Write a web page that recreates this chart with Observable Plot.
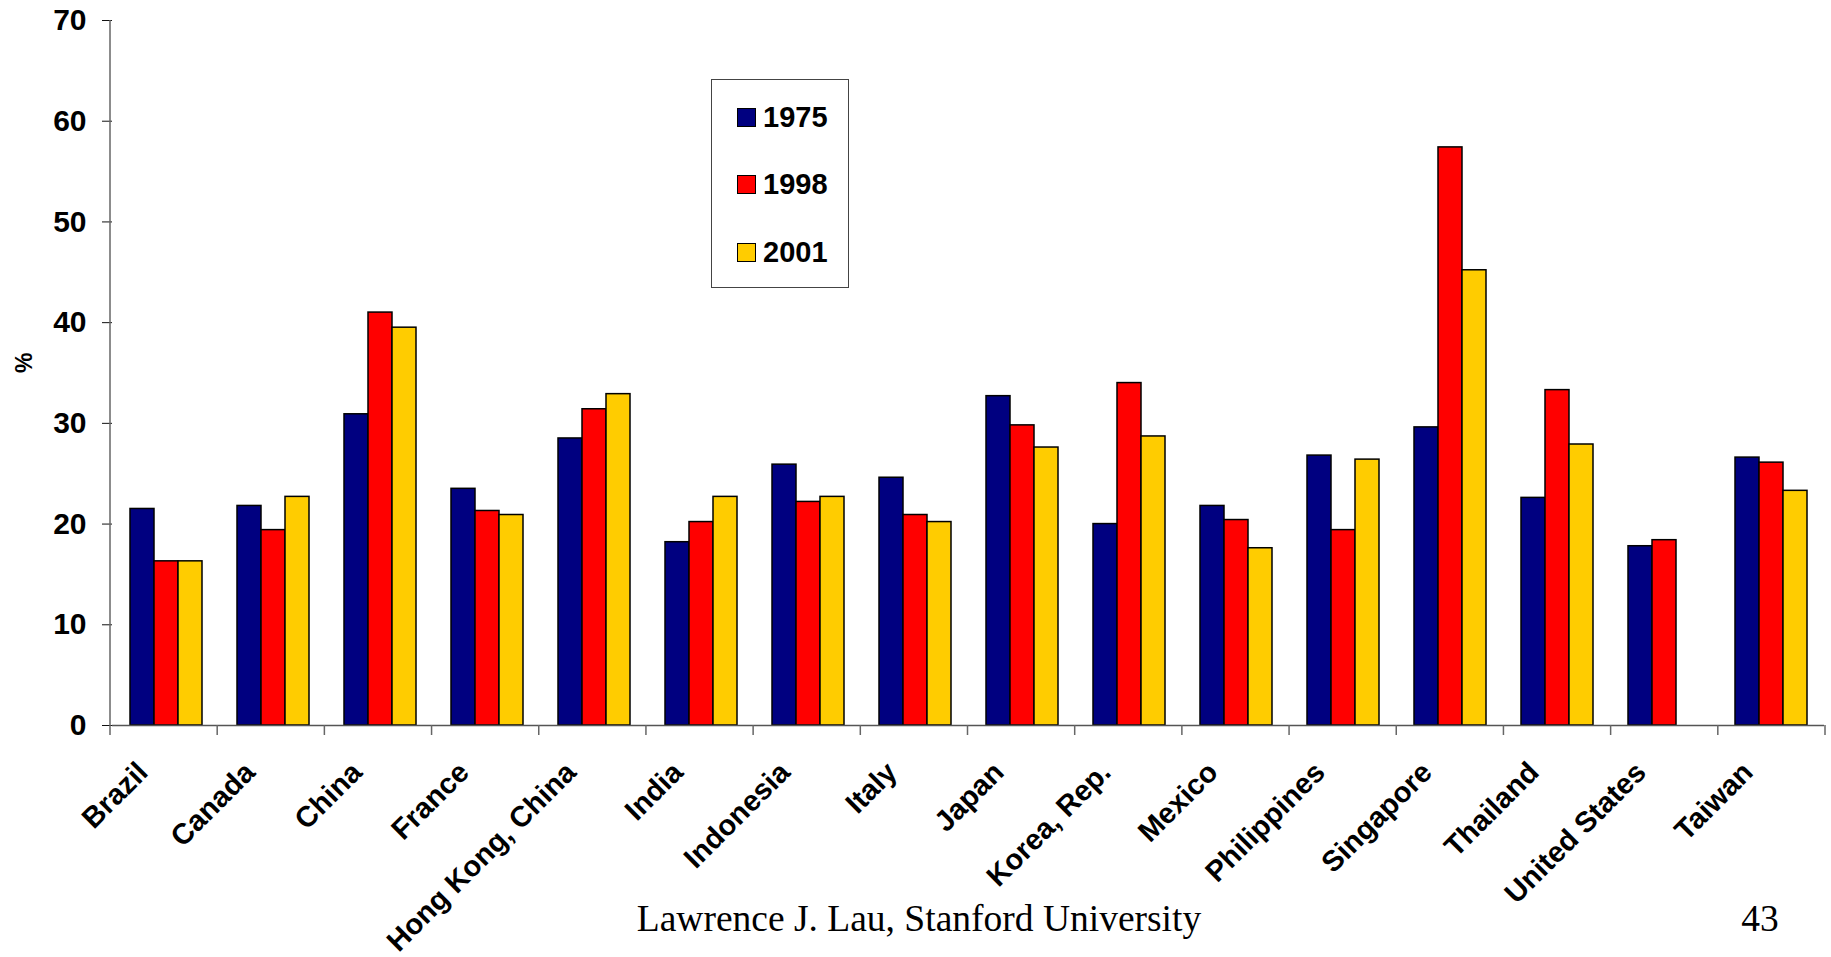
<!DOCTYPE html>
<html><head><meta charset="utf-8">
<script src="https://cdn.jsdelivr.net/npm/d3@7"></script>
<script src="https://cdn.jsdelivr.net/npm/@observablehq/plot@0.6"></script>
<style>
html,body{margin:0;padding:0;background:#fff;}
#wrap{position:relative;width:1831px;height:957px;overflow:hidden;font-family:"Liberation Sans",Arial,sans-serif;}
#wrap svg{position:absolute;left:0;top:0;}
#legend{position:absolute;left:711px;top:79px;width:138px;height:209px;border:1px solid #444;box-sizing:border-box;background:#fff;}
.lrow{position:absolute;left:25px;height:30px;display:flex;align-items:center;font-weight:bold;font-size:29px;color:#000;}
.lsw{width:17px;height:17px;border:1.5px solid #000;margin-right:7px;}
.cap{position:absolute;font-family:"Liberation Serif","Times New Roman",serif;font-size:37.5px;color:#000;white-space:nowrap;}
</style></head><body><div id="wrap"></div>
<script>
const countries = ["Brazil","Canada","China","France","Hong Kong, China","India","Indonesia","Italy","Japan","Korea, Rep.","Mexico","Philippines","Singapore","Thailand","United States","Taiwan"];
const years = ["1975","1998","2001"];
const v1975 = [21.5,21.8,30.9,23.5,28.5,18.2,25.9,24.6,32.7,20.0,21.8,26.8,29.6,22.6,17.8,26.6];
const v1998 = [16.3,19.4,41.0,21.3,31.4,20.2,22.2,20.9,29.8,34.0,20.4,19.4,57.4,33.3,18.4,26.1];
const v2001 = [16.3,22.7,39.5,20.9,32.9,22.7,22.7,20.2,27.6,28.7,17.6,26.4,45.2,27.9,null,23.3];
const colors = ["#000080","#FF0000","#FFCC00"];
const yTicks = [0,10,20,30,40,50,60,70];
const yLabel = "%";
const caption = "Lawrence J. Lau, Stanford University";
const pageNumber = "43";

const series = [v1975, v1998, v2001];
const rows = [];
countries.forEach((c, i) => years.forEach((yr, j) => {
  const v = series[j][i];
  if (v != null) rows.push({country: c, year: yr, value: v});
}));

const plot = Plot.plot({
  width: 1831, height: 957,
  marginLeft: 110, marginRight: 6, marginTop: 20, marginBottom: 232,
  style: {fontFamily: "'Liberation Sans', Arial, sans-serif", fontWeight: "bold", color: "#000", background: "transparent"},
  fx: {domain: countries, padding: 0, axis: null},
  x: {domain: years, axis: null, paddingInner: 0, paddingOuter: 0.72},
  y: {domain: [0, 70], axis: null},
  color: {domain: years, range: colors},
  marks: [
    Plot.barY(rows, {fx: "country", x: "year", y: "value", fill: "year", stroke: "#000", strokeWidth: 1.5}),
    Plot.ruleY([0], {stroke: "#555", strokeWidth: 1.5}),
    Plot.axisY(yTicks, {anchor: "left", tickSize: 10, tickPadding: 16, fontSize: 30, fontWeight: "bold", stroke: "#111", label: null}),
    Plot.axisFx({anchor: "bottom", tickSize: 0, tickRotate: -45, tickPadding: 42, dx: -23, fontSize: 29, fontWeight: "bold", label: null}),
    Plot.text([yLabel], {frameAnchor: "left", dx: -88, rotate: -90, fontSize: 23, fontWeight: "bold", facetAnchor: "left"})
  ]
});

const wrap = document.getElementById("wrap");
wrap.appendChild(plot);

// boundary ticks and y-axis line, from Plot's own scales
const sfx = plot.scale("fx"), sy = plot.scale("y");
const fxs = d3.scaleBand(sfx.domain, sfx.range).paddingInner(sfx.paddingInner || 0).paddingOuter(sfx.paddingOuter || 0).align(sfx.align ?? 0.5);
const ys = d3.scaleLinear(sy.domain, sy.range);
const g = d3.select(plot).append("g").attr("stroke", "#666").attr("stroke-width", 1.5);
const y0 = ys(0);
g.append("line").attr("x1", fxs(countries[0])).attr("x2", fxs(countries[0])).attr("y1", ys(yTicks[yTicks.length - 1])).attr("y2", y0 + 10);
countries.slice(1).forEach(c => g.append("line").attr("x1", fxs(c)).attr("x2", fxs(c)).attr("y1", y0).attr("y2", y0 + 10));
const lastX = fxs(countries[countries.length - 1]) + fxs.bandwidth();
g.append("line").attr("x1", lastX).attr("x2", lastX).attr("y1", y0).attr("y2", y0 + 10);

// legend
const legend = document.createElement("div");
legend.id = "legend";
years.forEach((yr, i) => {
  const row = document.createElement("div");
  row.className = "lrow";
  row.style.top = (22 + i * 67.5) + "px";
  const sw = document.createElement("div");
  sw.className = "lsw";
  sw.style.background = colors[i];
  row.appendChild(sw);
  row.appendChild(document.createTextNode(yr));
  legend.appendChild(row);
});
wrap.appendChild(legend);

// caption and page number
const cap = document.createElement("div");
cap.className = "cap"; cap.textContent = caption;
cap.style.left = "919px"; cap.style.top = "897px"; cap.style.transform = "translateX(-50%)";
wrap.appendChild(cap);
const pg = document.createElement("div");
pg.className = "cap"; pg.textContent = pageNumber;
pg.style.left = "1760px"; pg.style.top = "897px"; pg.style.transform = "translateX(-50%)";
wrap.appendChild(pg);
</script></body></html>
